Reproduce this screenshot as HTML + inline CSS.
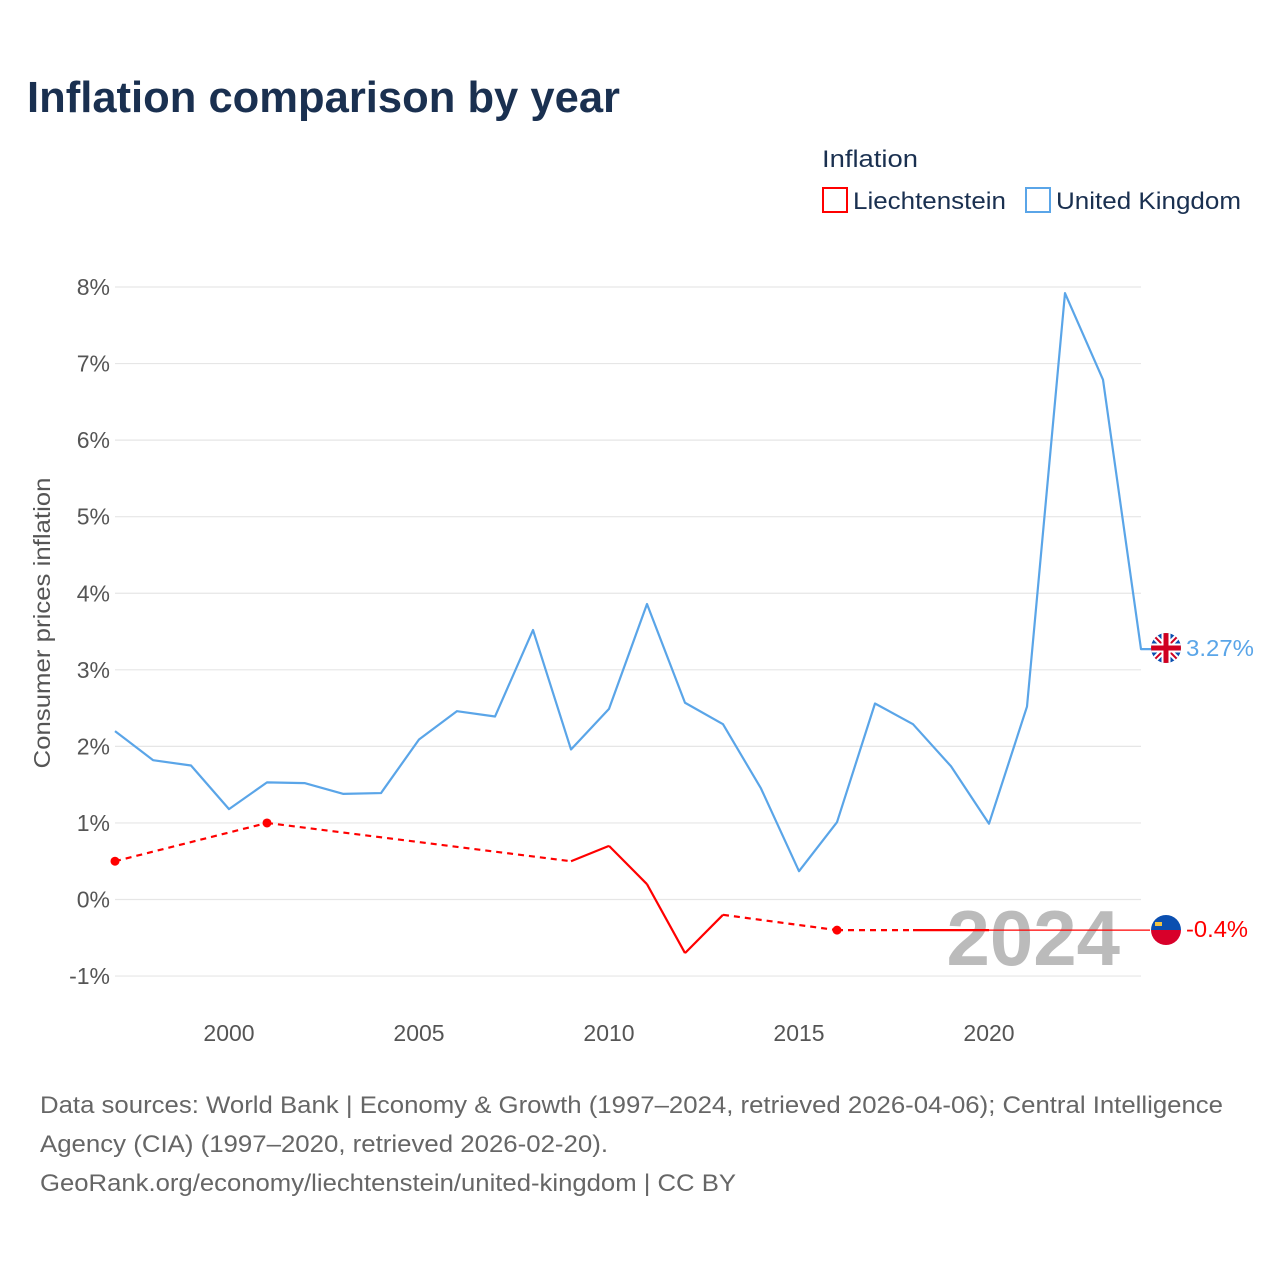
<!DOCTYPE html>
<html><head><meta charset="utf-8"><style>
body{margin:0;background:#fff;font-family:"Liberation Sans",sans-serif;}
svg{display:block}
</style></head><body>
<svg width="1280" height="1280" id="chart">
<text x="27" y="112" font-size="44" font-weight="bold" fill="#1a3050" textLength="593" lengthAdjust="spacingAndGlyphs">Inflation comparison by year</text>
<text x="822" y="167" font-size="24" fill="#1a3050" textLength="96" lengthAdjust="spacingAndGlyphs">Inflation</text>
<g><rect x="823" y="188" width="24" height="24" fill="none" stroke="#f00" stroke-width="2"/><text x="853" y="209" font-size="24" fill="#1a3050" textLength="153" lengthAdjust="spacingAndGlyphs">Liechtenstein</text></g>
<g><rect x="1026" y="188" width="24" height="24" fill="none" stroke="#5aa5e8" stroke-width="2"/><text x="1056" y="209" font-size="24" fill="#1a3050" textLength="185" lengthAdjust="spacingAndGlyphs">United Kingdom</text></g>
<text transform="translate(50,623) rotate(-90)" text-anchor="middle" font-size="23" fill="#555" textLength="291" lengthAdjust="spacingAndGlyphs">Consumer prices inflation</text>
<g id="grid"></g><g id="yticks"></g><g id="xticks"></g>
<text x="1120" y="965" text-anchor="end" font-size="78" font-weight="bold" fill="#bbb">2024</text>
<g id="series"></g>
<g><clipPath id="c1"><circle cx="1166" cy="648" r="15"/></clipPath><g clip-path="url(#c1)"><rect x="1150" y="632" width="32" height="32" fill="#0b4fb0"/><path d="M1150 632L1182 664M1182 632L1150 664" stroke="#fff" stroke-width="6"/><path d="M1150 632L1182 664M1182 632L1150 664" stroke="#d00020" stroke-width="2"/><path d="M1166 632V664M1150 648H1182" stroke="#fff" stroke-width="9"/><path d="M1166 632V664M1150 648H1182" stroke="#d00020" stroke-width="5"/></g></g>
<text x="1186" y="656" font-size="23" fill="#5aa5e8" textLength="68" lengthAdjust="spacingAndGlyphs">3.27%</text>
<g><clipPath id="c2"><circle cx="1166" cy="930" r="15"/></clipPath><g clip-path="url(#c2)"><rect x="1150" y="914" width="32" height="16" fill="#0b4fb0"/><rect x="1150" y="930" width="32" height="16" fill="#d8002a"/><rect x="1155" y="922" width="7" height="4" fill="#f3c340"/></g></g>
<text x="1186" y="937" font-size="23" fill="#f00" textLength="62" lengthAdjust="spacingAndGlyphs">-0.4%</text>
<g font-size="24" fill="#666">
<text x="40" y="1113" textLength="1183" lengthAdjust="spacingAndGlyphs">Data sources: World Bank | Economy &amp; Growth (1997–2024, retrieved 2026-04-06); Central Intelligence</text>
<text x="40" y="1152" textLength="568" lengthAdjust="spacingAndGlyphs">Agency (CIA) (1997–2020, retrieved 2026-02-20).</text>
<text x="40" y="1191" textLength="696" lengthAdjust="spacingAndGlyphs">GeoRank.org/economy/liechtenstein/united-kingdom | CC BY</text>
</g>
</svg>
<script>
const years=[1997,1998,1999,2000,2001,2002,2003,2004,2005,2006,2007,2008,2009,2010,2011,2012,2013,2014,2015,2016,2017,2018,2019,2020,2021,2022,2023,2024];
const ukValues=[2.2,1.82,1.75,1.18,1.53,1.52,1.38,1.39,2.09,2.46,2.39,3.52,1.96,2.49,3.86,2.57,2.29,1.45,0.37,1.01,2.56,2.29,1.74,0.99,2.52,7.92,6.79,3.27];
const liValues=[0.5,null,null,null,1.0,null,null,null,null,null,null,null,0.5,0.7,0.2,-0.7,-0.2,null,null,-0.4,null,-0.4,-0.4,-0.4,null,null,null,null];
const yTicks=[-1,0,1,2,3,4,5,6,7,8];
const xTicks=[2000,2005,2010,2015,2020];
const liLatest=-0.4;
const NS="http://www.w3.org/2000/svg";
const X=y=>115+(y-1997)*38;
const Y=v=>899.5-v*76.56;
function mk(tag,attrs,parent){const e=document.createElementNS(NS,tag);for(const k in attrs)e.setAttribute(k,attrs[k]);parent.appendChild(e);return e;}
const grid=document.getElementById('grid'),yt=document.getElementById('yticks'),xt=document.getElementById('xticks'),ser=document.getElementById('series');
yTicks.forEach(v=>{
 const l=mk('line',{x1:115,x2:1141,y1:Y(v),y2:Y(v),stroke:'#e6e6e6','stroke-width':1.2},grid);
 
 
 const t=mk('text',{x:110,y:Y(v)+8,'text-anchor':'end','font-size':23,fill:'#555'},yt);
 t.textContent=v+'%';
 
 
});
xTicks.forEach(y=>{
 const t=mk('text',{x:X(y),y:1041,'text-anchor':'middle','font-size':23,fill:'#555'},xt);
 t.textContent=y;
 
 
});
const ref=mk('line',{x1:X(2018),x2:1150,y1:Y(liLatest),y2:Y(liLatest),stroke:'#f00','stroke-width':1.2},ser);


const ukPts=years.map((y,i)=>X(y)+','+Y(ukValues[i])).join(' ');
const uk=mk('polyline',{points:ukPts+' '+(X(2024)+12)+','+Y(ukValues[27]),fill:'none',stroke:'#5aa5e8','stroke-width':2.2,'stroke-linejoin':'round'},ser);


const idx=liValues.map((v,i)=>v===null?null:i).filter(i=>i!==null);
for(let k=0;k<idx.length-1;k++){
 const a=idx[k],b=idx[k+1];
 const s=mk('line',{x1:X(years[a]),y1:Y(liValues[a]),x2:X(years[b]),y2:Y(liValues[b]),stroke:'#f00','stroke-width':2.2},ser);
 if(b-a>1)s.setAttribute('stroke-dasharray','6,5');
 
 
}
idx.forEach(i=>{
 const prev=i>0&&liValues[i-1]!==null,next=i<liValues.length-1&&liValues[i+1]!==null;
 if(!prev&&!next){
  const c=mk('circle',{cx:X(years[i]),cy:Y(liValues[i]),r:4.5,fill:'#f00'},ser);
  
  
 }
});
</script>
</body></html>
